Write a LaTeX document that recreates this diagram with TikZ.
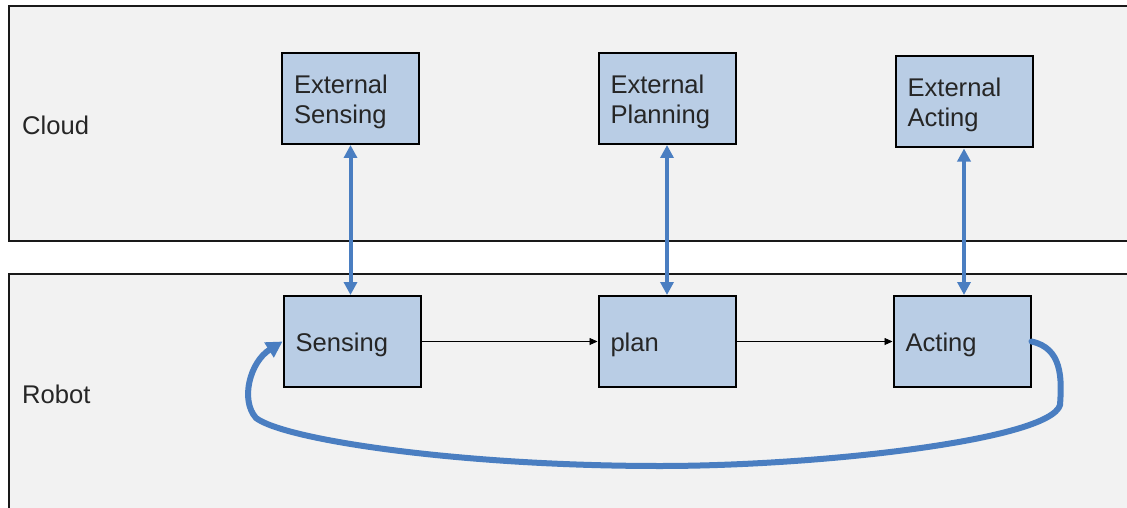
\documentclass[tikz,border=0pt]{standalone}
\usepackage{fontspec}
\setmainfont{Liberation Sans}
\usetikzlibrary{arrows.meta}
\definecolor{panelfill}{RGB}{242,242,242}
\definecolor{boxfill}{RGB}{185,205,229}
\definecolor{flowblue}{RGB}{74,126,193}
\begin{document}
\begin{tikzpicture}[x=1pt,y=-1pt,
  panel/.style={draw=black!90,line width=1.8pt,fill=panelfill},
  blockbox/.style={draw=black,line width=2pt,fill=boxfill,minimum width=137pt,minimum height=91pt,
    text width=113pt,inner xsep=12pt,align=left,font=\fontsize{25.6}{30}\selectfont,text=black!85,
    execute at begin node={\rule{0pt}{25pt}}},
  lbl/.style={anchor=west,inner sep=0pt,font=\fontsize{25.6}{30}\selectfont,text=black!85},
  link/.style={draw=flowblue,line width=4pt,{Triangle[length=13pt,width=13pt]}-{Triangle[length=13pt,width=13pt]}},
  flow/.style={draw=black,line width=0.8pt,-{Triangle[length=8pt,width=7pt]}},
  loopback/.style={draw=flowblue,line width=6pt,line cap=round,-{Triangle[length=16pt,width=17pt]}}]
\useasboundingbox[fill=white] (0,0) rectangle (1127,508);
\path[panel] (9,6) rectangle (1135,241);
\path[panel] (9,274) rectangle (1135,515);
\node[lbl] (cloud) at (22,125) {Cloud};
\node[lbl] (robot) at (22,394) {Robot};
\node[blockbox] (extS) at (350.5,98.5) {External Sensing};
\node[blockbox] (extP) at (667,98.5) {External Planning};
\node[blockbox] (extA) at (964,102) {External Acting};
\node[blockbox] (sens) at (352,341.5) {Sensing};
\node[blockbox] (plan) at (667,341.5) {plan};
\node[blockbox] (act) at (962,341.5) {Acting};
\draw[link] (extS.south) -- (extS.south |- sens.north);
\draw[link] (extP.south) -- (extP.south |- plan.north);
\draw[link] (extA.south) -- (extA.south |- act.north);
\draw[flow] (sens.east) -- (plan.west);
\draw[flow] (plan.east) -- (act.west);
\draw[loopback] (act.east) .. controls (1062,348) and (1062,378) .. (1060,405)
  .. controls (1050,440) and (820,466) .. (660,466)
  .. controls (460,466) and (285,440) .. (256,418)
  .. controls (240,400) and (250,362) .. (sens.west);
\end{tikzpicture}
\end{document}
